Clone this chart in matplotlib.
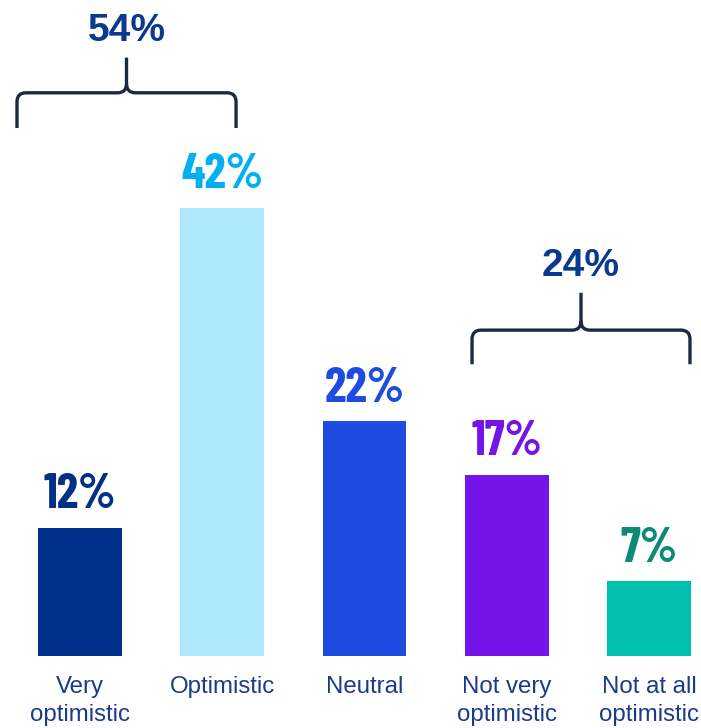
import matplotlib
matplotlib.use("Agg")
import matplotlib.pyplot as plt
from matplotlib.path import Path
from matplotlib.patches import PathPatch
import numpy as np

categories = ["Very\noptimistic", "Optimistic", "Neutral", "Not very\noptimistic", "Not at all\noptimistic"]
values = [12, 42, 22, 17, 7]
bar_colors = ["#003087", "#ade8fd", "#1f4ce0", "#7414e8", "#00bfae"]
label_colors = ["#003087", "#00b0f0", "#1f4ce0", "#7414e8", "#0b8a78"]
# groups summed under a bracket: (first index, last index)
groups = [(0, 1), (3, 4)]

NAVY = "#1a3a8c"
BRACKET = "#1b2a44"
CONDENSED = ["Barlow Condensed", "DejaVu Sans"]


def draw_bracket(ax, x0, x1, y, drop, rise, r=9):
    # curly bracket opening downward, with a tip at the middle pointing up
    to_px = ax.transData.transform
    sx = (to_px((1, 0))[0] - to_px((0, 0))[0])
    sy = (to_px((0, 1))[1] - to_px((0, 0))[1])
    rx, ry = r / sx, r / sy
    xm = (x0 + x1) / 2
    verts = [
        (x0, y - drop), (x0, y - ry), (x0, y), (x0 + rx, y),
        (xm - rx, y), (xm, y), (xm, y + ry), (xm, y + rise),
        (xm, y + ry), (xm, y), (xm + rx, y),
        (x1 - rx, y), (x1, y), (x1, y - ry), (x1, y - drop),
    ]
    codes = [Path.MOVETO, Path.LINETO, Path.CURVE3, Path.CURVE3,
             Path.LINETO, Path.CURVE3, Path.CURVE3, Path.LINETO,
             Path.MOVETO, Path.CURVE3, Path.CURVE3,
             Path.LINETO, Path.CURVE3, Path.CURVE3, Path.LINETO]
    ax.add_patch(PathPatch(Path(verts, codes), fill=False, edgecolor=BRACKET,
                           linewidth=2.4, capstyle="butt", joinstyle="round"))


fig = plt.figure(figsize=(7.01, 7.28), dpi=100)
ax = fig.add_axes([0, 0, 1, 1])
ax.set_xlim(-0.5624, 4.3655)
ax.set_ylim(-6.75, 61.5)
ax.axis("off")

x = np.arange(len(values))
ax.bar(x, values, width=0.59, color=bar_colors)

for xi, v, c in zip(x, values, label_colors):
    ax.text(xi, v + 1.0, f"{v}%", ha="center", va="bottom", color=c,
            fontsize=35, fontweight="bold", family=CONDENSED)

for xi, cat in zip(x, categories):
    ax.text(xi, -1.9, cat, ha="center", va="top", color=NAVY,
            fontsize=17.3, family="Liberation Sans", linespacing=1.33)

# bracket geometry per group: left, right, horizontal y, drop, rise
bracket_spans = [(-0.443, 1.097, 52.8, 3.3, 3.3), (2.756, 4.288, 30.55, 3.2, 3.5)]
for (i0, i1), (bx0, bx1, by, drop, rise) in zip(groups, bracket_spans):
    total = sum(values[i0:i1 + 1])
    draw_bracket(ax, bx0, bx1, by, drop, rise)
    ax.text((bx0 + bx1) / 2, by + rise + 2.5, f"{total}%", ha="center", va="center",
            color="#0a3a8f", fontsize=28, fontweight="bold", family="Liberation Sans")

fig.savefig("out.png", dpi=100)
